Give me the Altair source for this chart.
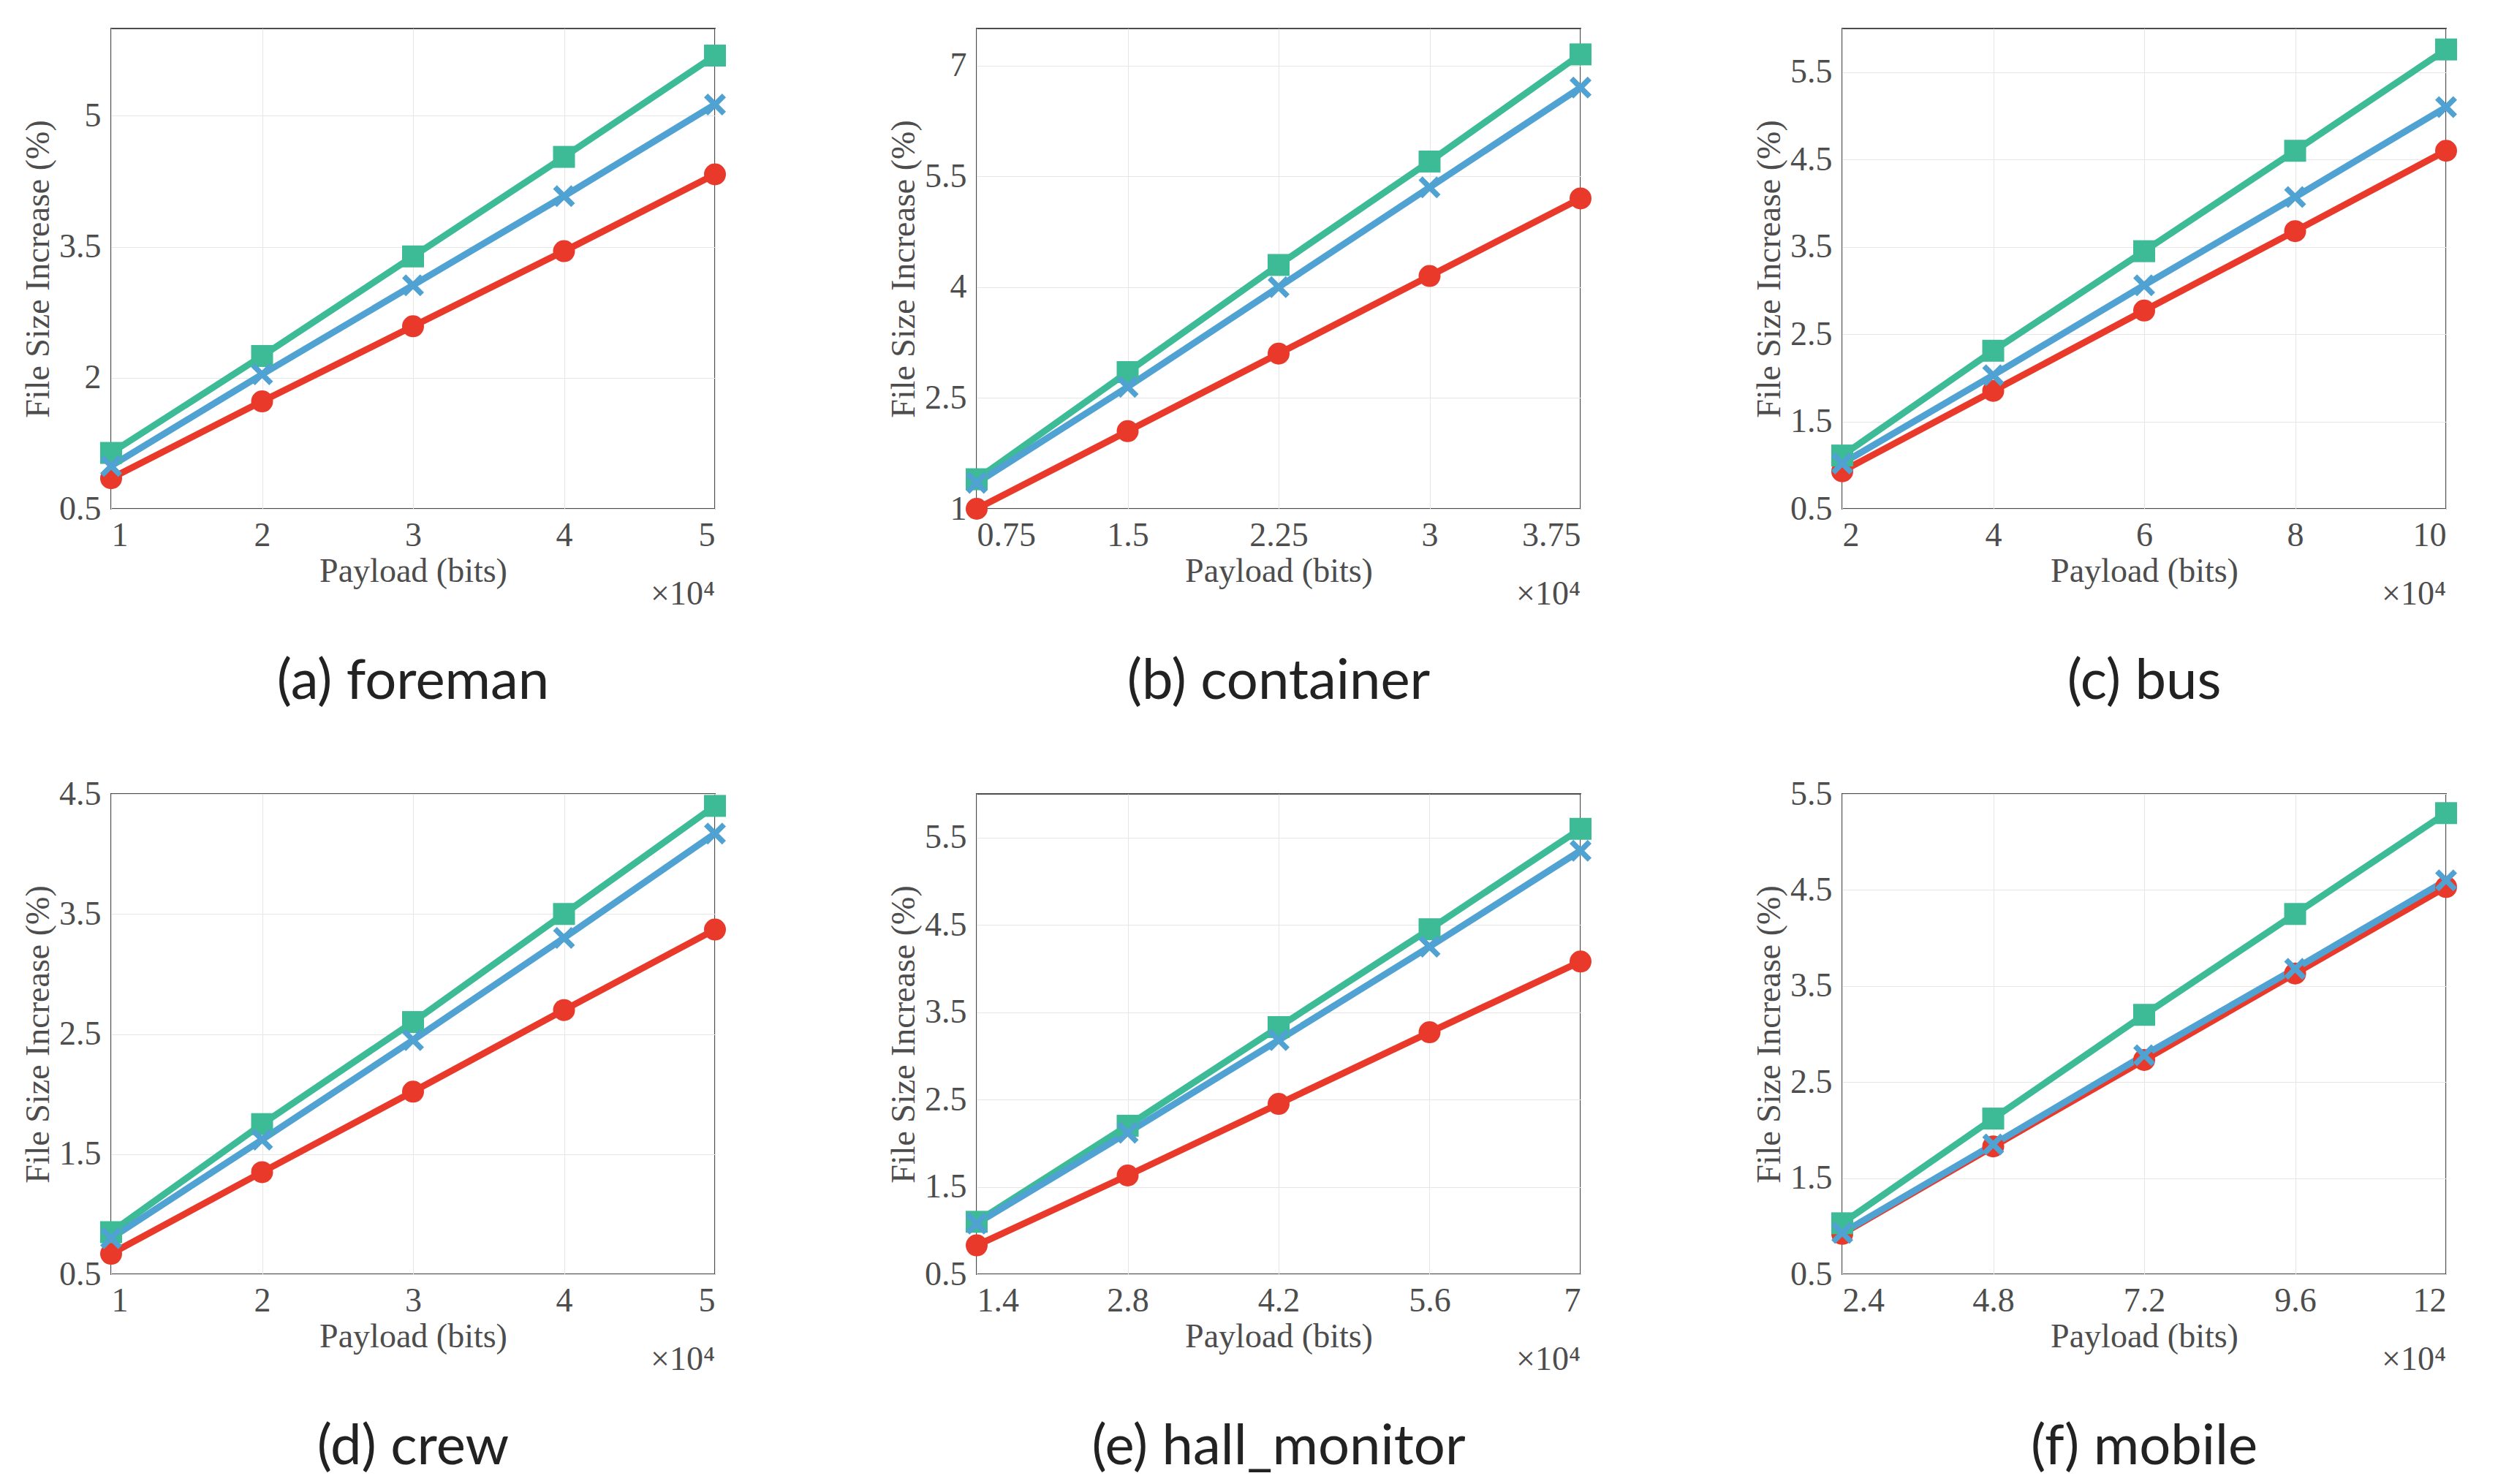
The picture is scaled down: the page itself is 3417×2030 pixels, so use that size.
import altair as alt
import pandas as pd

series = ["Ours⁻", "Ref. [37]", "Ref. [29]"]
colors = ["#E8392A", "#3DBB97", "#4FA2D1"]

# x values in units of 10^4 bits
x_a = [1, 2, 3, 4, 5]
x_b = [0.75, 1.5, 2.25, 3, 3.75]
x_c = [2, 4, 6, 8, 10]
x_d = [1, 2, 3, 4, 5]
x_e = [1.4, 2.8, 4.2, 5.6, 7]
x_f = [2.4, 4.8, 7.2, 9.6, 12]

ours_a = [0.85, 1.73, 2.59, 3.45, 4.33]
r37_a = [1.14, 2.25, 3.39, 4.53, 5.69]
r29_a = [0.99, 2.04, 3.06, 4.08, 5.13]

ours_b = [1.0, 2.05, 3.1, 4.15, 5.2]
r37_b = [1.4, 2.85, 4.3, 5.7, 7.15]
r29_b = [1.35, 2.65, 4.0, 5.35, 6.7]

ours_c = [0.93, 1.85, 2.77, 3.68, 4.6]
r37_c = [1.11, 2.31, 3.45, 4.6, 5.76]
r29_c = [1.02, 2.03, 3.06, 4.07, 5.1]

ours_d = [0.67, 1.35, 2.02, 2.7, 3.37]
r37_d = [0.85, 1.75, 2.6, 3.5, 4.4]
r29_d = [0.8, 1.62, 2.45, 3.3, 4.17]

ours_e = [0.83, 1.63, 2.45, 3.27, 4.08]
r37_e = [1.1, 2.2, 3.33, 4.45, 5.6]
r29_e = [1.08, 2.12, 3.18, 4.25, 5.35]

ours_f = [0.92, 1.83, 2.73, 3.63, 4.53]
r37_f = [1.03, 2.12, 3.2, 4.25, 5.3]
r29_f = [0.93, 1.85, 2.78, 3.68, 4.6]

y_ticks_a = [0.5, 2, 3.5, 5]
y_ticks_b = [1, 2.5, 4, 5.5, 7]
y_ticks_std = [0.5, 1.5, 2.5, 3.5, 4.5, 5.5]
y_ticks_d = [0.5, 1.5, 2.5, 3.5, 4.5]

panels = [
    ("a", "foreman", x_a, [ours_a, r37_a, r29_a], [0.5, 6.0], y_ticks_a),
    ("b", "container", x_b, [ours_b, r37_b, r29_b], [1, 7.5], y_ticks_b),
    ("c", "bus", x_c, [ours_c, r37_c, r29_c], [0.5, 6.0], y_ticks_std),
    ("d", "crew", x_d, [ours_d, r37_d, r29_d], [0.5, 4.5], y_ticks_d),
    ("e", "hall_monitor", x_e, [ours_e, r37_e, r29_e], [0.5, 6.0], y_ticks_std),
    ("f", "mobile", x_f, [ours_f, r37_f, r29_f], [0.5, 5.5], y_ticks_std),
]

W, H = 826, 657
FONT = "Liberation Serif"
GREY = "#4D4D4D"
X_SHAPE = "M-1,-0.65L-0.65,-1L0,-0.35L0.65,-1L1,-0.65L0.35,0L1,0.65L0.65,1L0,0.35L-0.65,1L-1,0.65L-0.35,0Z"

color_scale = alt.Scale(domain=series, range=colors)
shape_scale = alt.Scale(domain=series, range=["circle", "square", X_SHAPE])


def panel(letter, name, xs, ys, ydom, yticks):
    rows = []
    for s, vals in zip(series, ys):
        for x, v in zip(xs, vals):
            rows.append({"x": x, "y": v, "s": s})
    df = pd.DataFrame(rows)
    xs_ax = alt.X("x:Q", title="Payload (bits)",
                  scale=alt.Scale(domain=[xs[0], xs[-1]], nice=False, zero=False),
                  axis=alt.Axis(values=xs, labelExpr="toString(datum.value)"))
    ys_ax = alt.Y("y:Q", title="File Size Increase (%)",
                  scale=alt.Scale(domain=ydom, nice=False, zero=False),
                  axis=alt.Axis(values=yticks, labelExpr="toString(datum.value)"))
    base = alt.Chart(df)
    lines = base.mark_line(strokeWidth=9).encode(
        x=xs_ax, y=ys_ax,
        color=alt.Color("s:N", scale=color_scale, sort=series, legend=None),
        detail="s:N",
    )
    legend = alt.Legend(orient="bottom-right", offset=22, title=None,
                        fillColor="white", strokeColor="#333333",
                        padding=14, labelFont=FONT, labelFontSize=46,
                        labelColor="black", symbolSize=800, rowPadding=8)
    pts = base.mark_point(filled=True, size=900, opacity=1).encode(
        x="x:Q", y="y:Q",
        color=alt.Color("s:N", scale=color_scale, sort=series, legend=legend),
        shape=alt.Shape("s:N", scale=shape_scale, sort=series, legend=legend),
    )
    mult = alt.Chart(pd.DataFrame({"t": ["×10⁴"]})).mark_text(
        font=FONT, fontSize=46, color=GREY, align="right", baseline="top"
    ).encode(x=alt.value(W), y=alt.value(H + 95), text="t:N")
    return alt.layer(lines, pts, mult).properties(
        width=W, height=H,
        title=alt.TitleParams(f"({letter}) {name}", orient="bottom", font="Lato",
                              fontSize=76, fontWeight="normal", color="#222222",
                              offset=60),
    )


charts = [panel(*p) for p in panels]
row1 = alt.hconcat(*charts[:3], spacing=215).resolve_legend(color="independent", shape="independent")
row2 = alt.hconcat(*charts[3:], spacing=215).resolve_legend(color="independent", shape="independent")
chart = alt.vconcat(row1, row2, spacing=90).resolve_legend(
    color="independent", shape="independent"
).configure_axis(
    labelFont=FONT, titleFont=FONT, labelFontSize=46, titleFontSize=46,
    labelColor=GREY, titleColor=GREY, titleFontWeight="normal",
    gridColor="#E6E6E6", domain=False, ticks=False, labelPadding=14,
).configure_view(stroke="#4D4D4D", strokeWidth=2).properties(
    padding={"left": 20, "top": 30, "right": 40, "bottom": 10}
)

chart.save("out.html", embed_options={"renderer": "svg", "actions": False})
